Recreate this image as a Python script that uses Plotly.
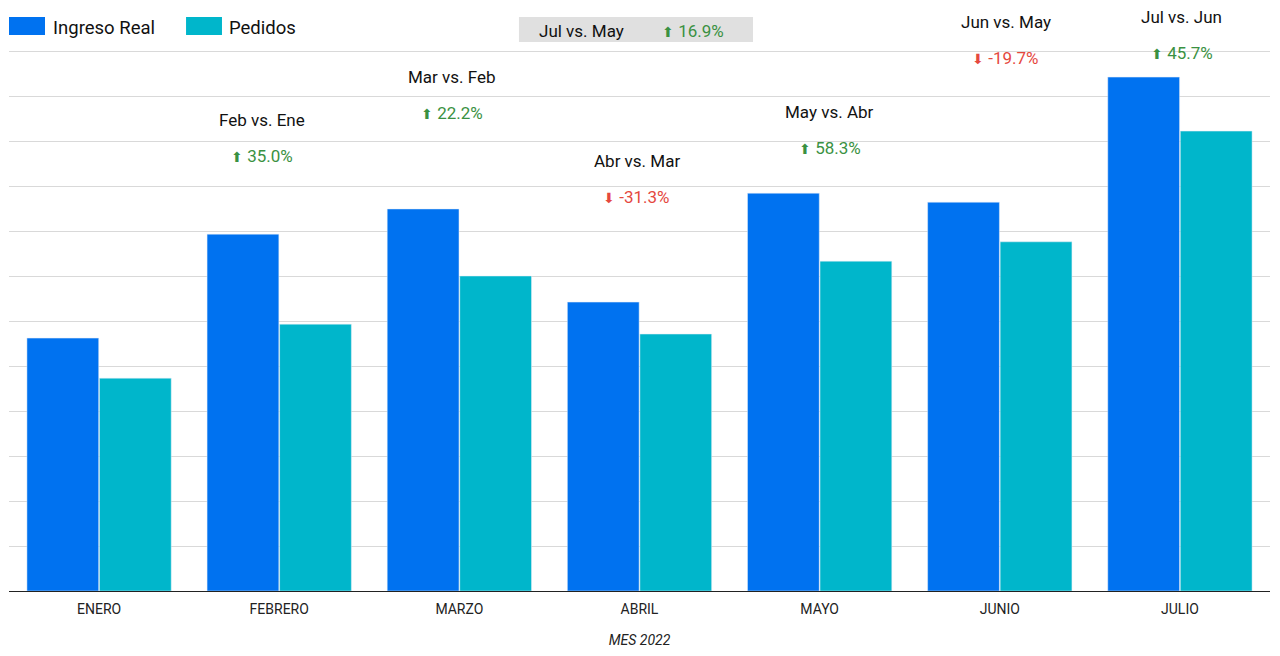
import plotly.graph_objects as go

# ---- data ----
months = ["ENERO", "FEBRERO", "MARZO", "ABRIL", "MAYO", "JUNIO", "JULIO"]
ingreso_real = [5.62, 7.93, 8.49, 6.42, 8.84, 8.64, 11.42]
pedidos = [4.73, 5.93, 7.00, 5.71, 7.33, 7.76, 10.22]

comp_labels = ["Feb vs. Ene", "Mar vs. Feb", "Abr vs. Mar", "May vs. Abr", "Jun vs. May", "Jul vs. Jun"]
comp_pct = [35.0, 22.2, -31.3, 58.3, -19.7, 45.7]
summary_label = "Jul vs. May"
summary_pct = 16.9

# ---- layout config (positions of the comparison labels) ----
comp_months = months[1:]
comp_title_y = [10.47, 11.42, 9.56, 10.64, 12.64, 12.76]
comp_xshift = [-17, -7, -3, 10, 6, 2]

BLUE = "#0072F0"
TEAL = "#00B6CB"
GREEN = "#3A9142"
RED = "#E5483E"
FONT = "Roboto"

fig = go.Figure()
fig.add_trace(go.Bar(name="Ingreso Real", x=months, y=ingreso_real, marker_color=BLUE,
                     showlegend=False))
fig.add_trace(go.Bar(name="Pedidos", x=months, y=pedidos, marker_color=TEAL,
                     showlegend=False))


def pct_text(p):
    arrow = "⬆" if p >= 0 else "⬇"
    return f"<span style='font-size:14px'>{arrow}</span> {p:.1f}%"


annotations = []
for m, lab, pct, ty, xs in zip(comp_months, comp_labels, comp_pct, comp_title_y, comp_xshift):
    annotations.append(dict(x=m, y=ty, xref="x", yref="y", text=lab, showarrow=False,
                            xshift=xs, yanchor="middle",
                            font=dict(family=FONT, size=17, color="#111111")))
    col = GREEN if pct >= 0 else RED
    annotations.append(dict(x=m, y=ty - 0.8, xref="x", yref="y", text=pct_text(pct),
                            showarrow=False, xshift=xs, yanchor="middle",
                            font=dict(family=FONT, size=17, color=col)))

# summary box
annotations.append(dict(x=0.4044, y=0.9725, xref="paper", yref="paper", xanchor="left",
                        yanchor="middle", xshift=18, text=summary_label, showarrow=False,
                        font=dict(family=FONT, size=17, color="#111111")))
annotations.append(dict(x=0.4044, y=0.9725, xref="paper", yref="paper", xanchor="left",
                        yanchor="middle", xshift=141, text=pct_text(summary_pct),
                        showarrow=False, font=dict(family=FONT, size=17, color=GREEN)))

# legend texts
annotations.append(dict(x=0, y=0.978, xref="paper", yref="paper", xanchor="left",
                        yanchor="middle", xshift=42, text="Ingreso Real", showarrow=False,
                        font=dict(family=FONT, size=18.5, color="#111111")))
annotations.append(dict(x=0, y=0.978, xref="paper", yref="paper", xanchor="left",
                        yanchor="middle", xshift=218, text="Pedidos", showarrow=False,
                        font=dict(family=FONT, size=18.5, color="#111111")))

shapes = [
    dict(type="rect", xref="paper", yref="paper", x0=0.4044, x1=0.590, y0=0.9531, y1=0.9965,
         fillcolor="#E0E0E0", line=dict(width=0), layer="above"),
    dict(type="rect", xref="paper", yref="paper", x0=0.0, x1=0.02855, y0=0.9653, y1=0.9965,
         fillcolor=BLUE, line=dict(width=0)),
    dict(type="rect", xref="paper", yref="paper", x0=0.1404, x1=0.1689, y0=0.9653, y1=0.9965,
         fillcolor=TEAL, line=dict(width=0)),
]

fig.update_layout(
    width=1280, height=656,
    margin=dict(l=9, r=10, t=15, b=65),
    paper_bgcolor="white", plot_bgcolor="white",
    barmode="group", bargap=0.195, bargroupgap=0.01,
    font=dict(family=FONT, color="#222222"),
    annotations=annotations, shapes=shapes,
    xaxis=dict(showline=True, linecolor="#222222", linewidth=1, ticks="",
               automargin=False, ticklabelstandoff=5,
               tickfont=dict(family=FONT, size=14, color="#222222"),
               title=dict(text="<i>MES 2022</i>", standoff=19,
                          font=dict(family=FONT, size=14, color="#222222"))),
    yaxis=dict(range=[0, 12.8], dtick=1, showticklabels=False, gridcolor="#D9D9D9",
               gridwidth=1, zeroline=False, automargin=False),
)

fig.write_html("out.html")
